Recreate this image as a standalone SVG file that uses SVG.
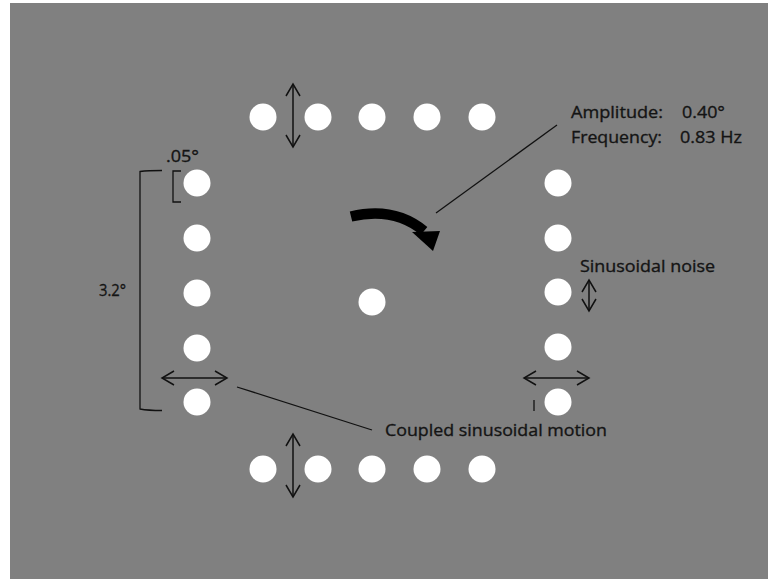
<svg xmlns="http://www.w3.org/2000/svg" width="768" height="579" viewBox="0 0 768 579">
  <defs>
    <style>
      .dot { fill: #ffffff; }
      .line { stroke: #111111; stroke-width: 1.3; fill: none; }
      .arrow { stroke: #111111; stroke-width: 1.5; fill: none; marker-start: url(#vhead); marker-end: url(#vhead); }
      .label { font-family: "Open Sans", "Noto Sans", "Liberation Sans", sans-serif; font-size: 17px; fill: #141414; stroke: #141414; stroke-width: 0.35px; }
    </style>
    <marker id="vhead" markerUnits="userSpaceOnUse" markerWidth="16" markerHeight="18" viewBox="-14 -9 16 18" refX="0" refY="0" orient="auto-start-reverse">
      <path d="M-12,-7 L0,0 L-12,7" stroke="#111111" stroke-width="1.5" fill="none"/>
    </marker>
  </defs>

  <!-- background panel -->
  <rect x="10" y="3" width="758" height="576" fill="#808080"/>

  <!-- top row of dots -->
  <g id="top-row">
    <circle class="dot" cx="263" cy="117" r="13.5"/>
    <circle class="dot" cx="318" cy="117" r="13.5"/>
    <circle class="dot" cx="372" cy="117" r="13.5"/>
    <circle class="dot" cx="427" cy="117" r="13.5"/>
    <circle class="dot" cx="482" cy="117" r="13.5"/>
  </g>

  <!-- bottom row of dots -->
  <g id="bottom-row">
    <circle class="dot" cx="263" cy="469" r="13.5"/>
    <circle class="dot" cx="318" cy="469" r="13.5"/>
    <circle class="dot" cx="372" cy="469" r="13.5"/>
    <circle class="dot" cx="427" cy="469" r="13.5"/>
    <circle class="dot" cx="482" cy="469" r="13.5"/>
  </g>

  <!-- left column of dots -->
  <g id="left-column">
    <circle class="dot" cx="197" cy="183" r="13.5"/>
    <circle class="dot" cx="197" cy="238" r="13.5"/>
    <circle class="dot" cx="197" cy="293" r="13.5"/>
    <circle class="dot" cx="197" cy="348" r="13.5"/>
    <circle class="dot" cx="197" cy="402" r="13.5"/>
  </g>

  <!-- right column of dots -->
  <g id="right-column">
    <circle class="dot" cx="558" cy="183" r="13.5"/>
    <circle class="dot" cx="558" cy="238" r="13.5"/>
    <circle class="dot" cx="558" cy="292" r="13.5"/>
    <circle class="dot" cx="558" cy="347" r="13.5"/>
    <circle class="dot" cx="558" cy="402" r="13.5"/>
  </g>

  <!-- fixation dot -->
  <g id="center-dot">
    <circle class="dot" cx="372" cy="302" r="13.5"/>
  </g>

  <!-- rotation arrow -->
  <g id="rotation-arrow">
    <path d="M351,216.5 C374,211 401,212 424,231" stroke="#000000" stroke-width="10.5" fill="none"/>
    <polygon points="412,232 440,231 433,251" fill="#000000"/>
  </g>

  <!-- size brackets -->
  <g id="brackets">
    <path class="line" d="M162,170.5 Q148,170.5 140,171.5 L140,409 Q148,410.5 162,410.5"/>
    <path class="line" d="M181,171 L173,171 L173,202 L181,202"/>
    <text class="label" x="166" y="162" textLength="33" lengthAdjust="spacingAndGlyphs">.05°</text>
    <text class="label" x="99" y="296" textLength="27" lengthAdjust="spacingAndGlyphs">3.2°</text>
  </g>

  <!-- motion arrows and leader lines -->
  <g id="connectors">
    <line class="arrow" x1="293" y1="84" x2="293" y2="147"/>
    <line class="arrow" x1="293" y1="434" x2="293" y2="497"/>
    <line class="arrow" x1="162" y1="378" x2="227" y2="378"/>
    <line class="arrow" x1="524" y1="378" x2="589" y2="378"/>
    <line class="arrow" x1="589" y1="280" x2="589" y2="311"/>
    <line class="line" x1="534" y1="400" x2="534" y2="411"/>
    <line class="line" x1="436" y1="213" x2="557" y2="125"/>
    <line class="line" x1="237" y1="387" x2="372" y2="430"/>
  </g>

  <!-- annotations -->
  <g id="annotations">
    <text class="label" x="571" y="118" textLength="92" lengthAdjust="spacingAndGlyphs">Amplitude:</text>
    <text class="label" x="682" y="118" textLength="43" lengthAdjust="spacingAndGlyphs">0.40°</text>
    <text class="label" x="571" y="143" textLength="91" lengthAdjust="spacingAndGlyphs">Frequency:</text>
    <text class="label" x="680" y="143" textLength="62" lengthAdjust="spacingAndGlyphs">0.83 Hz</text>
    <text class="label" x="580" y="272" textLength="135" lengthAdjust="spacingAndGlyphs">Sinusoidal noise</text>
    <text class="label" x="385" y="436" textLength="222" lengthAdjust="spacingAndGlyphs">Coupled sinusoidal motion</text>
  </g>
</svg>
